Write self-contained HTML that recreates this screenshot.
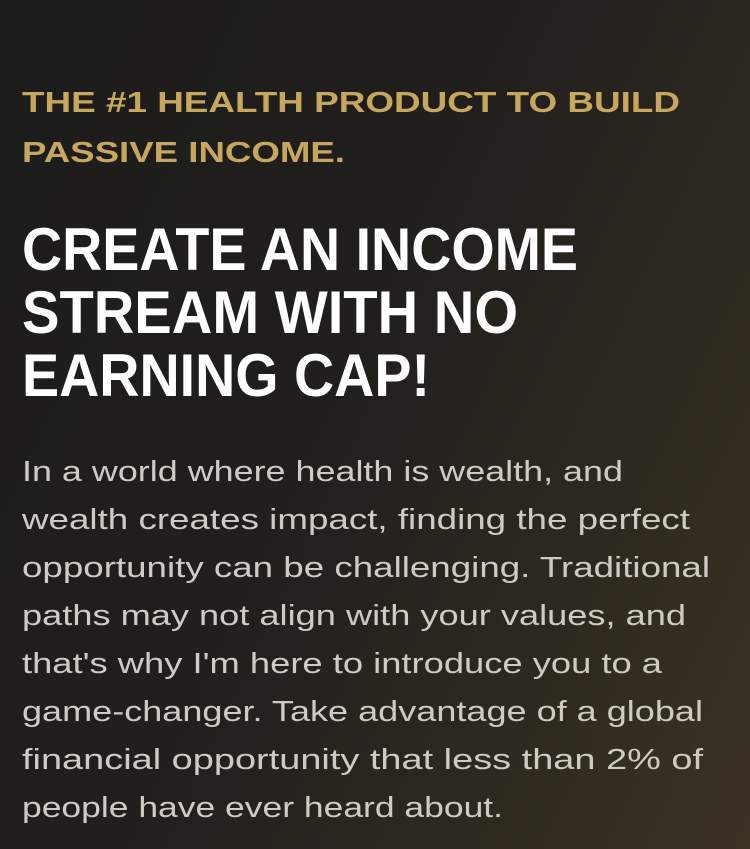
<!DOCTYPE html>
<html><head><meta charset="utf-8"><style>
html,body{margin:0;padding:0;width:750px;height:849px;overflow:hidden}
body{background:linear-gradient(115deg,#1c1c1c 0%,#211f1d 45%,#2e2920 75%,#3b3224 100%)}
svg{display:block}
.sub{font-family:"Liberation Sans",sans-serif;font-weight:700;font-size:29px;fill:#c7a65d}
.h{font-family:"Liberation Sans Narrow","Liberation Sans",sans-serif;font-weight:700;font-size:60px;fill:#fff}
.b{font-family:"Liberation Sans",sans-serif;font-weight:400;font-size:29px;fill:#cfcac3}
</style></head><body>
<svg width="750" height="849">
<g>
<text class="sub" x="22" y="112" textLength="658" lengthAdjust="spacingAndGlyphs">THE #1 HEALTH PRODUCT TO BUILD</text>
<text class="sub" x="22" y="162" textLength="323" lengthAdjust="spacingAndGlyphs">PASSIVE INCOME.</text>
</g>
<g>
<text class="h" x="22" y="270" textLength="556" lengthAdjust="spacingAndGlyphs">CREATE AN INCOME</text>
<text class="h" x="22" y="333" textLength="496" lengthAdjust="spacingAndGlyphs">STREAM WITH NO</text>
<text class="h" x="22" y="396" textLength="408" lengthAdjust="spacingAndGlyphs">EARNING CAP!</text>
</g>
<g>
<text class="b" x="22" y="481" textLength="601" lengthAdjust="spacingAndGlyphs">In a world where health is wealth, and</text>
<text class="b" x="22" y="529" textLength="668" lengthAdjust="spacingAndGlyphs">wealth creates impact, finding the perfect</text>
<text class="b" x="22" y="577" textLength="688" lengthAdjust="spacingAndGlyphs">opportunity can be challenging. Traditional</text>
<text class="b" x="22" y="625" textLength="664" lengthAdjust="spacingAndGlyphs">paths may not align with your values, and</text>
<text class="b" x="22" y="673" textLength="640" lengthAdjust="spacingAndGlyphs">that's why I'm here to introduce you to a</text>
<text class="b" x="22" y="721" textLength="681" lengthAdjust="spacingAndGlyphs">game-changer. Take advantage of a global</text>
<text class="b" x="22" y="769" textLength="681" lengthAdjust="spacingAndGlyphs">financial opportunity that less than 2% of</text>
<text class="b" x="22" y="817" textLength="481" lengthAdjust="spacingAndGlyphs">people have ever heard about.</text>
</g>
</svg>
</body></html>
